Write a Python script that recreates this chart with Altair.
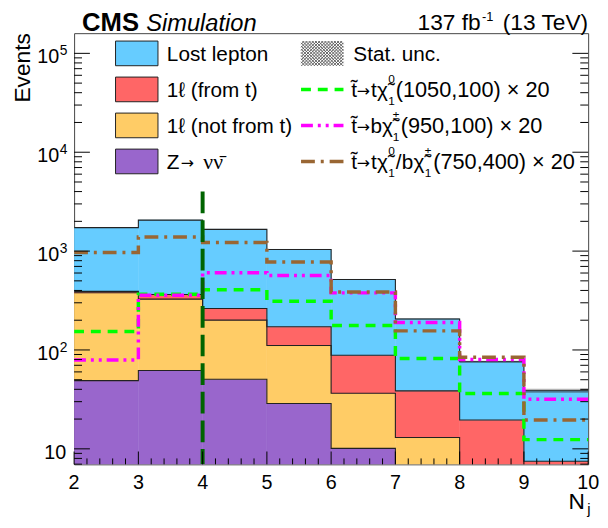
import altair as alt
import pandas as pd

# ---------------- data ----------------
edges = [2, 3, 4, 5, 6, 7, 8, 9, 10]
z_nunu = [49.0, 62.0, 50.5, 28.8, 10.1, 3.0, 1.0, 0.5]
onel_not_from_t = [330.0, 265.0, 150.0, 82.0, 26.4, 10.0, 4.0, 2.0]
onel_from_t = [12.0, 37.0, 62.0, 61.0, 52.0, 25.6, 15.6, 5.5]
lost_lepton = [1336.0, 1693.0, 1397.0, 868.0, 428.5, 167.4, 56.4, 31.2]
stat_unc_rel = [0.004, 0.004, 0.005, 0.006, 0.01, 0.015, 0.025, 0.05]

sig_t_1050_100 = [154, 366, 407, 311, 177, 82, 36.3, 12.4]
sig_b_950_100 = [79, 357, 603, 567, 378, 190, 80, 31.8]
sig_tb_750_400 = [970, 1390, 1222, 776, 386, 156, 84.5, 19.6]

cut_nj = [4]
cut_top = [4000]

x_major = [2, 3, 4, 5, 6, 7, 8, 9, 10]
x_labels = ["2", "3", "4", "5", "6", "7", "8", "9", "10"]
x_minor = [a + f for a in range(2, 10) for f in (0.2, 0.4, 0.6, 0.8)]
y_major = [10, 100, 1000, 10000, 100000]
y_exp = ["", "2", "3", "4", "5"]
y_minor = [m * 10 ** k for k in range(0, 5) for m in range(2, 10) if 6.97 <= m * 10 ** k <= 1.6e5]

# ---------------- layout ----------------
W, H = 521, 437
Y_MIN, Y_MAX = 6.97, 1.6e5
FONT = "Liberation Sans"

xs = alt.Scale(domain=[2, 10], nice=False, zero=False)
ys = alt.Scale(type="log", domain=[Y_MIN, Y_MAX], nice=False)

comps = [
    ("Z", z_nunu, "#9966CC"),
    ("notfromt", onel_not_from_t, "#FFCC66"),
    ("fromt", onel_from_t, "#FF6666"),
    ("lost", lost_lepton, "#66CCFF"),
]

rect_rows, line_rows = [], []
cum = [1.0] * 8
for name, vals, col in comps:
    base = cum
    top = [(b if b > 1.0 else 0.0) + v for b, v in zip(base, vals)]
    for i in range(8):
        rect_rows.append(dict(lo=edges[i], hi=edges[i + 1], b=base[i], t=top[i], fill=col))
    for i, x in enumerate(edges):
        line_rows.append(dict(x=x, y=top[min(i, 7)], s=name))
    cum = top
totals = cum
df_rect = pd.DataFrame(rect_rows)
df_line = pd.DataFrame(line_rows)

df_unc = pd.DataFrame(dict(lo=edges[:-1], hi=edges[1:],
                           b=[t * (1 - r) for t, r in zip(totals, stat_unc_rel)],
                           t=[t * (1 + r) for t, r in zip(totals, stat_unc_rel)]))

X = lambda f: alt.X(f, scale=xs, axis=None)
Y = lambda f: alt.Y(f, scale=ys, axis=None)
PX = lambda f: alt.X(f, scale=None, axis=None)
PY = lambda f: alt.Y(f, scale=None, axis=None)

layers = []
layers.append(alt.Chart(df_rect).mark_rect(clip=True, strokeWidth=0.5).encode(
    x=X("lo:Q"), x2="hi:Q", y=Y("b:Q"), y2="t:Q",
    color=alt.Color("fill:N", scale=None), stroke=alt.Stroke("fill:N", scale=None)))
layers.append(alt.Chart(df_unc).mark_rect(clip=True, color="#444444", opacity=0.4).encode(
    x=X("lo:Q"), x2="hi:Q", y=Y("b:Q"), y2="t:Q"))
layers.append(alt.Chart(df_line).mark_line(interpolate="step-after", clip=True, color="#222222", strokeWidth=1.1).encode(
    x=X("x:Q"), y=Y("y:Q"), detail="s:N", order="x:Q"))


def sig_layer(vals, color, dash):
    df = pd.DataFrame(dict(x=edges, y=list(vals) + [vals[-1]]))
    return alt.Chart(df).mark_line(interpolate="step-after", clip=True, color=color,
                                   strokeWidth=3.5, strokeDash=dash).encode(x=X("x:Q"), y=Y("y:Q"), order="x:Q")


GREEN, MAGENTA, BROWN = "#00FF00", "#FF00FF", "#996633"
D_GREEN, D_MAG, D_BROWN = [10, 7], [12, 5, 3, 5, 3, 5], [14, 6, 3, 6]
layers.append(sig_layer(sig_t_1050_100, GREEN, D_GREEN))
layers.append(sig_layer(sig_b_950_100, MAGENTA, D_MAG))
layers.append(sig_layer(sig_tb_750_400, BROWN, D_BROWN))

df_cut = pd.DataFrame(dict(x=cut_nj, t=cut_top))
layers.append(alt.Chart(df_cut).mark_rule(clip=True, color="#006400", strokeWidth=4, strokeDash=[22, 7]).encode(
    x=X("x:Q"), y=Y("t:Q"), y2=alt.value(H)))


# ticks
def yticks(vals, length):
    d = pd.DataFrame(dict(v=vals))
    l = alt.Chart(d).mark_rule(color="black", strokeWidth=1).encode(y=Y("v:Q"), x=alt.value(0), x2=alt.value(length))
    r = alt.Chart(d).mark_rule(color="black", strokeWidth=1).encode(y=Y("v:Q"), x=alt.value(W - length), x2=alt.value(W))
    return [l, r]


def xticks(vals, length):
    d = pd.DataFrame(dict(v=vals))
    return alt.Chart(d).mark_rule(color="black", strokeWidth=1).encode(x=X("v:Q"), y=alt.value(H - length), y2=alt.value(H))


layers += yticks(y_major, 16) + yticks(y_minor, 8)
layers += [xticks(x_major, 13), xticks(x_minor, 6)]

# tick labels
df_yl = pd.DataFrame(dict(v=y_major, e=y_exp, base=["10"] * 5))
layers.append(alt.Chart(df_yl[df_yl.e != ""]).mark_text(align="right", baseline="alphabetic", font=FONT, fontSize=20, dy=10).encode(
    y=Y("v:Q"), x=alt.value(-15), text="base:N"))
layers.append(alt.Chart(df_yl[df_yl.e == ""]).mark_text(align="right", baseline="alphabetic", font=FONT, fontSize=20, dy=10).encode(
    y=Y("v:Q"), x=alt.value(-8), text="base:N"))
layers.append(alt.Chart(df_yl[df_yl.e != ""]).mark_text(align="left", baseline="alphabetic", font=FONT, fontSize=14, dy=2).encode(
    y=Y("v:Q"), x=alt.value(-14.5), text="e:N"))
df_xl = pd.DataFrame(dict(v=x_major, t=x_labels))
layers.append(alt.Chart(df_xl).mark_text(align="center", baseline="alphabetic", font=FONT, fontSize=20).encode(
    x=X("v:Q"), y=alt.value(462), text="t:N"))


def texts(rows, size, align="left", font=FONT, **kw):
    df = pd.DataFrame(rows, columns=["px", "py", "t"])
    return alt.Chart(df).mark_text(align=align, baseline="alphabetic", font=font, fontSize=size, **kw).encode(
        x=PX("px:Q"), y=PY("py:Q"), text="t:N")


# header
layers.append(texts([(8, -2.5, "CMS")], 26, fontWeight="bold"))
layers.append(texts([(73, -2.5, "Simulation")], 24, fontStyle="italic"))
layers.append(texts([(521, -3, " (13 TeV)"), (412, -3, "137 fb")], 23, align="right"))
layers.append(texts([(425, -12.5, "-1")], 13, align="right"))
# axis titles
layers.append(texts([(-45, 0, "Events")], 23, align="right", angle=270))
layers.append(texts([(501, 482, "N")], 23))
layers.append(texts([(520, 487, "j")], 15))

# legend
rows_c = [20.5, 57, 93.5, 130]
df_sw = pd.DataFrame(dict(x1=[42] * 4, x2=[85] * 4, y1=[c - 12.5 for c in rows_c], y2=[c + 12.5 for c in rows_c],
                          f=["#66CCFF", "#FF6666", "#FFCC66", "#9966CC"]))
layers.append(alt.Chart(df_sw).mark_rect(stroke="#222222", strokeWidth=1).encode(
    x=PX("x1:Q"), x2="x2:Q", y=PY("y1:Q"), y2="y2:Q", color=alt.Color("f:N", scale=None)))

# cross-hatched swatch for the statistical uncertainty
hx0, hx1, hy0, hy1 = 230.0, 273.0, rows_c[0] - 12.5, rows_c[0] + 12.5
hatch = []
step = 3.2
c = hy0 - hx1
while c <= hy1 - hx0:
    xa, xb = max(hx0, hy0 - c), min(hx1, hy1 - c)
    if xb > xa:
        hatch.append(dict(xa=xa, xb=xb, ya=xa + c, yb=xb + c))
    c += step
c = hx0 + hy0
while c <= hx1 + hy1:
    xa, xb = max(hx0, c - hy1), min(hx1, c - hy0)
    if xb > xa:
        hatch.append(dict(xa=xa, xb=xb, ya=c - xa, yb=c - xb))
    c += step
layers.append(alt.Chart(pd.DataFrame(hatch)).mark_rule(color="#555555", strokeWidth=0.9).encode(
    x=PX("xa:Q"), x2="xb:Q", y=PY("ya:Q"), y2="yb:Q"))

for cc, col, dash in [(rows_c[1], GREEN, D_GREEN), (rows_c[2], MAGENTA, D_MAG), (rows_c[3], BROWN, D_BROWN)]:
    layers.append(alt.Chart(pd.DataFrame(dict(a=[0]))).mark_rule(color=col, strokeWidth=3.5, strokeDash=dash).encode(
        x=alt.value(230), x2=alt.value(273), y=alt.value(cc)))

b = [cc + 7.5 for cc in rows_c]
layers.append(texts([(94, b[0], "Lost lepton"), (94, b[1], "1ℓ (from t)"), (94, b[2], "1ℓ (not from t)"),
                     (94, b[3], "Z"), (283, b[0], "Stat. unc.")], 21))
layers.append(texts([(131, b[3], "νν̄")], 22, font="Liberation Serif"))
main_pieces = []
arrows = [(108, b[3] - 1, "→")]
for bb in b[1:]:
    main_pieces.append((281, bb, "t̃"))
    arrows.append((286.5, bb - 1, "→"))
main_pieces += [(301, b[1], "t"), (307, b[1], "χ̃")]
main_pieces += [(300.5, b[2], "b"), (312, b[2], "χ̃")]
main_pieces += [(301, b[3], "t"), (307, b[3], "χ̃"), (326, b[3], "/"), (332, b[3], "b"), (344, b[3], "χ̃")]
tails = [(326, b[1], "(1050,100) × 20"), (331, b[2], "(950,100) × 20"), (364, b[3], "(750,400) × 20")]
sup_pieces = [(318.5, b[1] - 14, "0"), (318.5, b[1] + 8, "1"),
              (323, b[2] - 14, "±"), (323, b[2] + 8, "1"),
              (318.5, b[3] - 14, "0"), (318.5, b[3] + 8, "1"),
              (355.5, b[3] - 14, "±"), (355.5, b[3] + 8, "1")]
layers.append(texts(main_pieces, 21))
layers.append(texts(tails, 22))
layers.append(texts(arrows, 16, font="DejaVu Sans"))
layers.append(texts(sup_pieces, 12))

chart = alt.layer(*layers).resolve_scale(x="independent", y="independent").properties(
    width=W, height=H,
    padding={"left": 67, "top": 22, "right": 12, "bottom": 60},
    autosize=alt.AutoSizeParams(type="none"),
    background="white",
).configure_view(stroke="#444444", strokeWidth=1)

chart.save("out.html", embed_options={"renderer": "svg", "actions": False})
